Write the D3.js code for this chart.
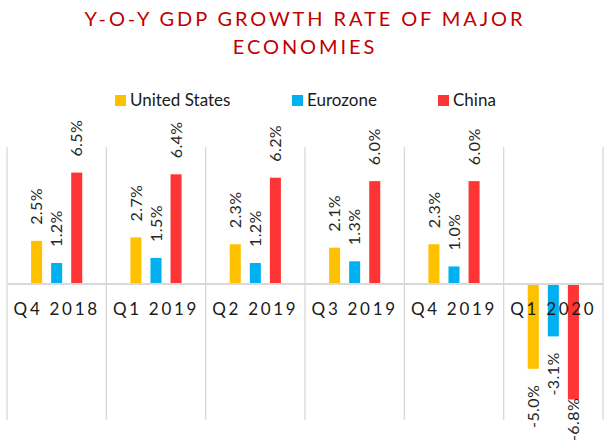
<!DOCTYPE html>
<html>
<head>
<meta charset="utf-8">
<script src="https://cdn.jsdelivr.net/npm/d3@7"></script>
<style>
  body { margin: 0; background: #fff; }
  text { font-family: Lato, "Open Sans", sans-serif; }
</style>
</head>
<body>
<div id="chart"></div>
<script>
// data
const quarters = ["Q4 2018", "Q1 2019", "Q2 2019", "Q3 2019", "Q4 2019", "Q1 2020"];
const series = ["United States", "Eurozone", "China"];
const usGrowth = [2.5, 2.7, 2.3, 2.1, 2.3, -5.0];
const ezGrowth = [1.2, 1.5, 1.2, 1.3, 1.0, -3.1];
const cnGrowth = [6.5, 6.4, 6.2, 6.0, 6.0, -6.8];
const colors = ["#FFC000", "#00B0F0", "#FF3535"];

const values = [usGrowth, ezGrowth, cnGrowth];
const rows = quarters.map((q, i) => ({
  quarter: q,
  vals: series.map((s, j) => ({ key: s, idx: j, v: values[j][i] }))
}));

const W = 605, H = 444;
const svg = d3.select("#chart").append("svg")
  .attr("width", W)
  .attr("height", H);

// title
const title = svg.append("text")
  .attr("text-anchor", "middle")
  .attr("fill", "#C00000")
  .style("font-size", "20px")
  .style("letter-spacing", "2.9px");
title.append("tspan").attr("x", 305).attr("y", 26).text("Y-O-Y GDP GROWTH RATE OF MAJOR");
title.append("tspan").attr("x", 305).attr("y", 54).text("ECONOMIES");

// legend
const legendX = [115, 292, 438];
const legend = svg.selectAll(".legend")
  .data(series)
  .enter()
  .append("g")
    .attr("class", "legend")
    .attr("transform", (d, i) => "translate(" + legendX[i] + ",95)");
legend.append("rect")
  .attr("width", 11)
  .attr("height", 11)
  .attr("fill", (d, i) => colors[i]);
legend.append("text")
  .attr("x", 15)
  .attr("y", 11)
  .attr("fill", "#1a1a1a")
  .style("font-size", "17px")
  .text(d => d);

// scales
const x0 = d3.scaleBand()
  .domain(quarters)
  .range([7, 603]);

const x1 = d3.scaleBand()
  .domain(series)
  .range([0, x0.bandwidth()])
  .paddingInner(0.45)
  .paddingOuter(1.2);

const y = d3.scaleLinear()
  .domain([-8, 8])
  .range([420, 147]);

// vertical gridlines at category boundaries
const bounds = quarters.map(q => x0(q)).concat([x0.range()[1]]);
svg.selectAll(".grid")
  .data(bounds)
  .enter()
  .append("line")
    .attr("x1", d => d)
    .attr("x2", d => d)
    .attr("y1", y.range()[1])
    .attr("y2", y.range()[0])
    .attr("stroke", "#D9D9D9")
    .attr("stroke-width", 1.3);

// bars
const groups = svg.selectAll(".grp")
  .data(rows)
  .enter()
  .append("g")
    .attr("transform", d => "translate(" + x0(d.quarter) + ",0)");

groups.selectAll("rect")
  .data(d => d.vals)
  .enter()
  .append("rect")
    .attr("x", d => x1(d.key))
    .attr("width", x1.bandwidth())
    .attr("y", d => y(Math.max(0, d.v)))
    .attr("height", d => Math.abs(y(d.v) - y(0)))
    .attr("fill", d => colors[d.idx]);

// data labels, rotated
const labels = groups.selectAll(".lbl")
  .data(d => d.vals)
  .enter()
  .append("text")
    .attr("class", "lbl")
    .attr("dy", "0.36em")
    .attr("text-anchor", d => d.v >= 0 ? "start" : "end")
    .attr("fill", "#262626")
    .style("font-size", "16px")
    .style("letter-spacing", "0.4px")
    .text(d => d.v.toFixed(1) + "%");

// keep labels inside the picture (pulled back over the bar end like the original)
labels.attr("transform", function(d) {
  const cx = x1(d.key) + x1.bandwidth() / 2;
  let yy;
  if (d.v >= 0) {
    yy = y(d.v) - 16;
  } else {
    const len = this.getComputedTextLength();
    yy = Math.min(y(d.v) + 16, H - 3 - len);
  }
  return "translate(" + cx + "," + yy + ") rotate(-90)";
});

// category axis at zero
const xAxis = svg.append("g")
  .attr("transform", "translate(0," + y(0) + ")")
  .call(d3.axisBottom(x0).tickSize(0).tickPadding(0));
xAxis.select(".domain")
  .attr("stroke", "#D9D9D9")
  .attr("stroke-width", 1.8);
xAxis.selectAll("text")
  .attr("y", 31.5)
  .attr("dy", 0)
  .attr("fill", "#1a1a1a")
  .style("font-family", "Lato, sans-serif")
  .style("font-size", "17px")
  .style("letter-spacing", "2.7px");
</script>
</body>
</html>
